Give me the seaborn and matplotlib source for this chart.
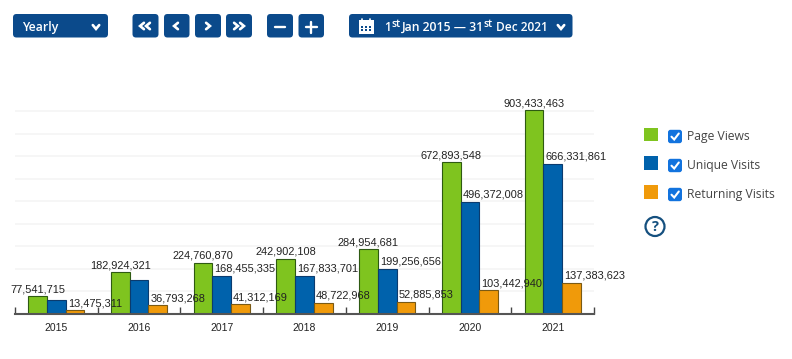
import numpy as np
import pandas as pd
import matplotlib
matplotlib.use("Agg")
import matplotlib.pyplot as plt
from matplotlib.patches import FancyBboxPatch, Circle, Rectangle
import seaborn as sns

years = ["2015", "2016", "2017", "2018", "2019", "2020", "2021"]
page_views = [77541715, 182924321, 224760870, 242902108, 284954681, 672893548, 903433463]
unique_visits = [60000000, 149000000, 168455335, 167833701, 199256656, 496372008, 666331861]
returning_visits = [13475311, 36793268, 41312169, 48722968, 52885853, 103442940, 137383623]
unique_labelled = [False, False, True, True, True, True, True]
series_names = ["Page Views", "Unique Visits", "Returning Visits"]
series_colors = ["#7FC41F", "#0062AC", "#F09A0A"]
edge_colors = ["#2E5A12", "#0B3B6E", "#7A5A14"]

BTN = "#0B4A8B"
W, H = 792, 359

sns.set_theme(style="white")
plt.rcParams["font.family"] = ["Liberation Sans", "DejaVu Sans"]

df = pd.DataFrame({
    "year": years * 3,
    "value": page_views + unique_visits + returning_visits,
    "series": sum([[n] * len(years) for n in series_names], []),
})

fig = plt.figure(figsize=(W / 100, H / 100), dpi=100, facecolor="white")
ax = fig.add_axes([15 / W, 1 - 313.5 / H, 579 / W, 225 / H])
sns.barplot(data=df, x="year", y="value", hue="series", hue_order=series_names,
            palette=series_colors, width=0.68, gap=0, saturation=1, errorbar=None,
            linewidth=0.8, edgecolor="black", ax=ax)

shown = [[True] * len(years), unique_labelled, [True] * len(years)]
for idx, (cont, edge) in enumerate(zip(ax.containers, edge_colors)):
    for i, bar in enumerate(cont):
        bar.set_edgecolor(edge)
        if not shown[idx][i]:
            continue
        val = bar.get_height()
        txt = f"{int(val):,}"
        if idx == 0:
            xy = (bar.get_x() + bar.get_width() / 2, val)
            ha, dx = "center", 0
        else:
            xy = (bar.get_x(), val)
            ha, dx = "left", 2
        ax.annotate(txt, xy=xy, xytext=(dx, 4), textcoords="offset pixels",
                    ha=ha, va="baseline", fontsize=7.9, color="#222222",
                    annotation_clip=False, zorder=6)

ax.set_xlim(-0.5, 6.5)
ax.set_ylim(0, 1e9)
ax.set_yticks(np.arange(0, 1.01e9, 1e8))
ax.set_yticklabels([])
ax.tick_params(axis="y", length=0)
ax.set_axisbelow(True)
ax.grid(axis="y", color="#F6F6F6", linewidth=1.3)
ax.grid(axis="x", visible=False)
ax.set_xlabel("")
ax.set_ylabel("")
ax.set_xticks(range(len(years)))
ax.set_xticklabels(years, fontsize=7.5, color="#222222")
ax.set_xticks(np.arange(-0.5, 7.0, 1), minor=True)
ax.tick_params(axis="x", which="major", length=0, pad=6.5)
ax.tick_params(axis="x", which="minor", length=5, width=1, direction="in",
               color="#444444", bottom=True)
for s in ["top", "left", "right"]:
    ax.spines[s].set_visible(False)
ax.spines["bottom"].set_color("#555555")
ax.spines["bottom"].set_linewidth(1.5)

handles, labels = ax.get_legend_handles_labels()
leg = fig.legend(handles, labels, loc="upper left",
                 bbox_to_anchor=(644 / W, 1 - 127.5 / H), bbox_transform=fig.transFigure,
                 frameon=False, borderpad=0, borderaxespad=0,
                 handlelength=1.16, handleheight=1.34, handletextpad=2.42, labelspacing=1.25,
                 prop={"family": "Open Sans", "size": 8.7})
for p in leg.get_patches():
    p.set_edgecolor("none")
for t in leg.get_texts():
    t.set_color("#444444")
    t.set_position((0, -2))
if ax.get_legend():
    ax.get_legend().remove()

# Overlay in pixel coordinates for the page controls
ui = fig.add_axes([0, 0, 1, 1], facecolor="none")
ui.set_xlim(0, W)
ui.set_ylim(H, 0)
ui.axis("off")


def button(x0, x1, y0=14, y1=37.5):
    ui.add_patch(FancyBboxPatch((x0 + 3, y0 + 3), x1 - x0 - 6, y1 - y0 - 6,
                                boxstyle="round,pad=3,rounding_size=3.5",
                                facecolor=BTN, edgecolor="none"))


def stroke(xs, ys, lw=1.9):
    ui.plot(xs, ys, color="white", lw=lw, solid_capstyle="round", solid_joinstyle="miter")


def chevron(cx, cy, direction, s=3.2):
    if direction == "down":
        stroke([cx - s, cx, cx + s], [cy - s * 0.6, cy + s * 0.6, cy - s * 0.6])
    else:
        sign = 1 if direction == "right" else -1
        stroke([cx - sign * s * 0.6, cx + sign * s * 0.6, cx - sign * s * 0.6],
               [cy - s, cy, cy + s])


cy = 26
button(13, 108)
ui.text(22, cy, "Yearly", color="white", fontsize=8.8, fontweight="semibold",
        family="Open Sans", va="center_baseline", ha="left")
chevron(96, cy + 1, "down")

for x0, x1 in [(132.5, 158.5), (164, 189.5), (195, 221), (226, 252), (267, 293), (298.5, 324)]:
    button(x0, x1)
chevron(142, cy, "left"); chevron(148, cy, "left")
chevron(176, cy, "left")
chevron(208, cy, "right")
chevron(236, cy, "right"); chevron(242, cy, "right")
stroke([275, 285], [cy + 1, cy + 1], lw=1.7)
stroke([305.5, 316.5], [cy + 1, cy + 1], lw=1.7)
stroke([311, 311], [cy - 4.5, cy + 6.5], lw=1.7)

button(349, 572.5)
# calendar icon
ui.add_patch(Rectangle((358.5, 20), 15, 14, facecolor="white", edgecolor="none"))
for gx in (361, 365, 369):
    for gy in (25.5, 29):
        ui.add_patch(Rectangle((gx, gy), 2.2, 2.2, facecolor=BTN, edgecolor="none"))
stroke([362, 362], [18.5, 21], lw=1.2)
stroke([370, 370], [18.5, 21], lw=1.2)

base = 31
date_font = dict(color="white", family="Open Sans", fontweight="semibold", va="baseline", ha="left")
ui.text(384.5, base, "1", fontsize=8.6, **date_font)
ui.text(391, base - 4, "st", fontsize=7.4, **date_font)
ui.text(402, base, "Jan 2015 \u2014 31", fontsize=8.8, **date_font)
ui.text(484, base - 4, "st", fontsize=7.4, **date_font)
ui.text(495.5, base, "Dec 2021", fontsize=8.6, **date_font)
chevron(561, cy + 1, "down")

# checkboxes beside the legend
for y in (136.5, 165.5, 194.5):
    ui.add_patch(FancyBboxPatch((670, y - 4.7), 10, 9.4,
                                boxstyle="round,pad=2,rounding_size=2.5",
                                facecolor="#1273DE", edgecolor="none"))
    stroke([671.5, 674.2, 678.8], [y + 0.2, y + 3, y - 3], lw=1.5)

# help icon
ui.add_patch(Circle((655, 226.5), 9.5, facecolor="white", edgecolor="#15507F", linewidth=1.6))
ui.text(655, 227, "?", color="#15507F", fontsize=10.5, fontweight="bold", family="Open Sans",
        ha="center", va="center")

fig.savefig("out.png", dpi=100, facecolor="white")
